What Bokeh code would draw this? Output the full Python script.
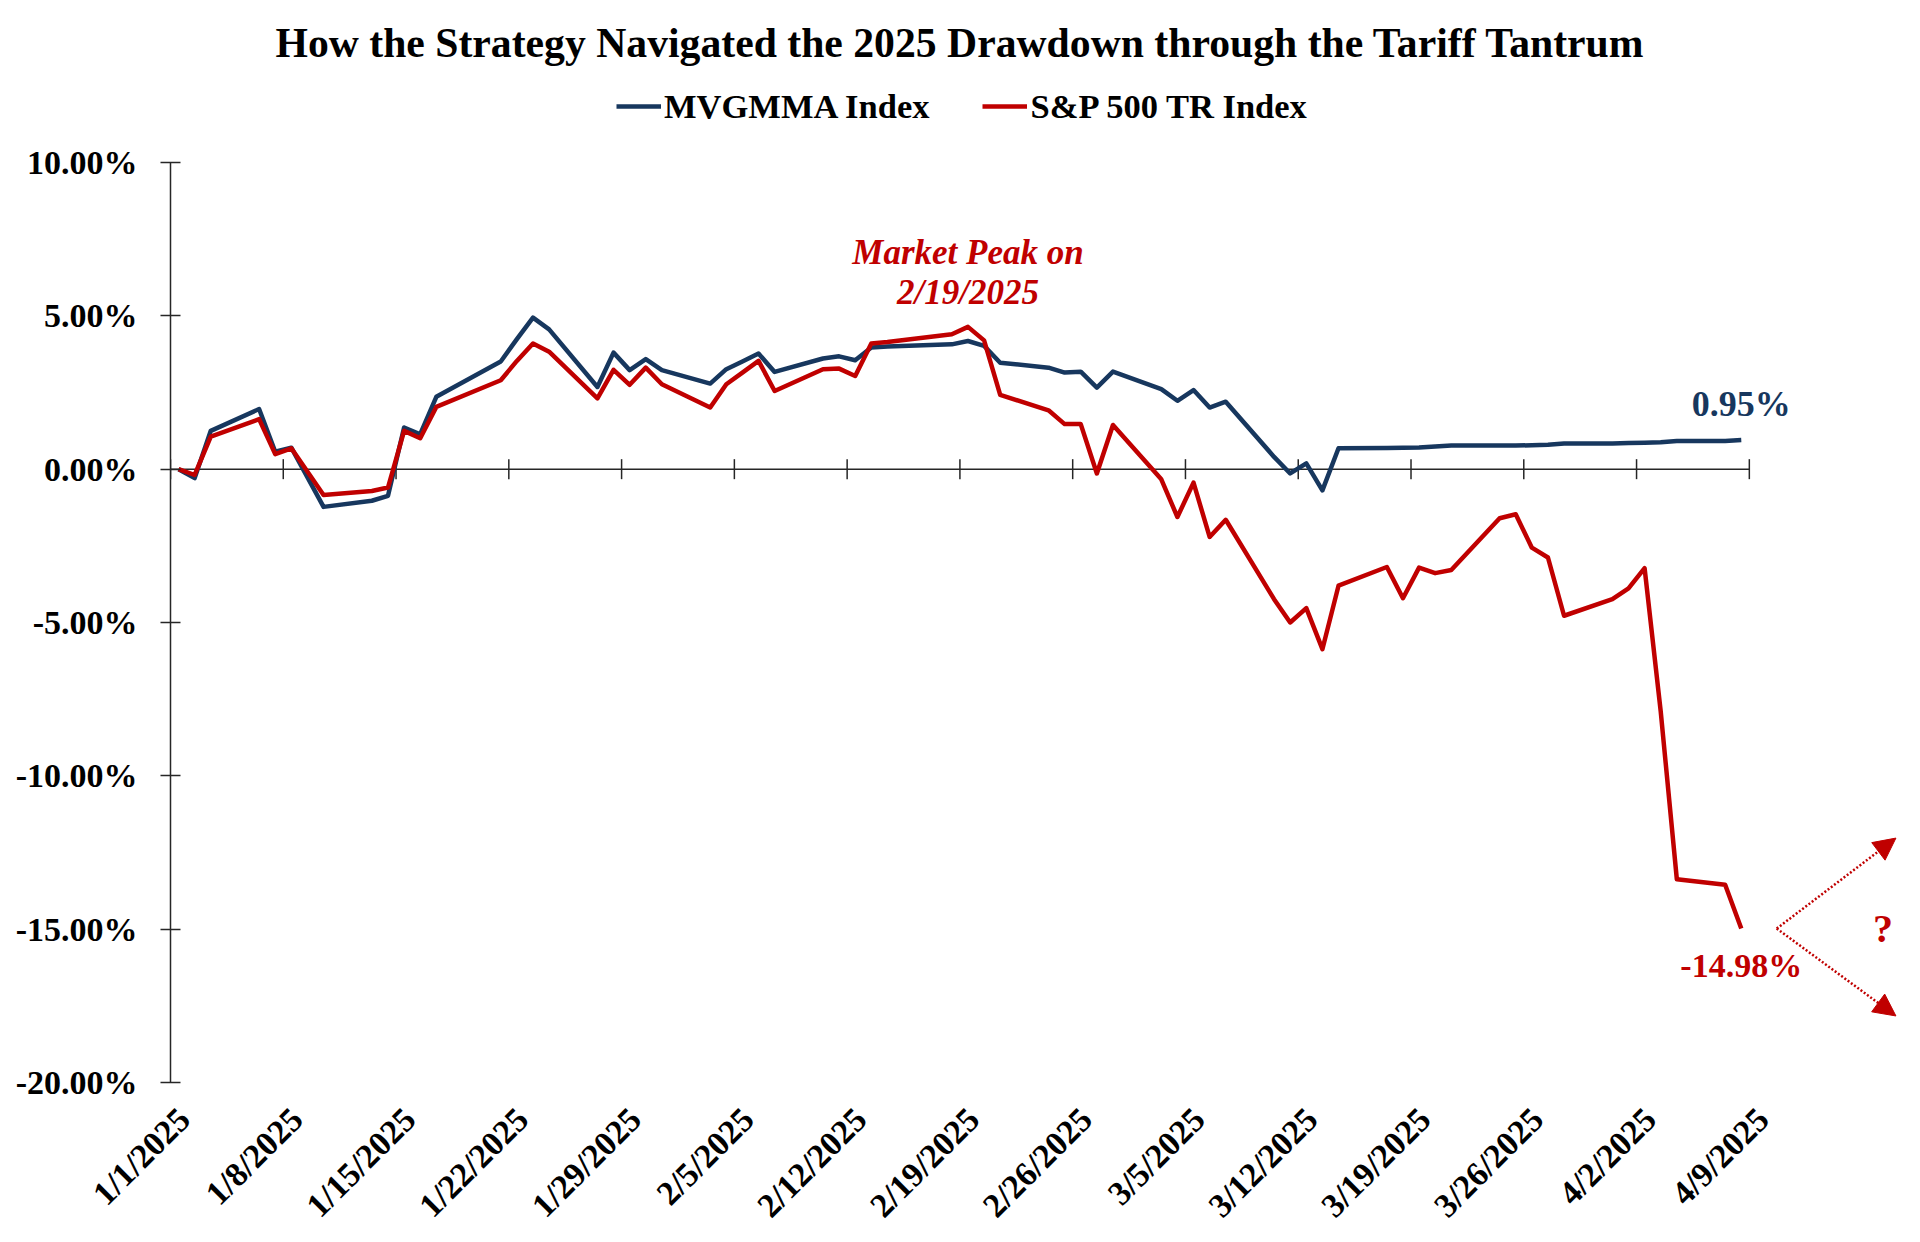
import numpy as np
import pandas as pd
from bokeh.plotting import figure
from bokeh.models import (Range1d, FixedTicker, Legend, LegendItem, Arrow, NormalHead)
from bokeh.core.properties import value
from bokeh.embed import file_html
from bokeh.resources import INLINE

# ---------------- data ----------------
dates = [
    "2025-01-01", "2025-01-02", "2025-01-03", "2025-01-06", "2025-01-07", "2025-01-08",
    "2025-01-10", "2025-01-13", "2025-01-14", "2025-01-15", "2025-01-16", "2025-01-17",
    "2025-01-21", "2025-01-22", "2025-01-23", "2025-01-24", "2025-01-27", "2025-01-28",
    "2025-01-29", "2025-01-30", "2025-01-31", "2025-02-03", "2025-02-04", "2025-02-05",
    "2025-02-06", "2025-02-07", "2025-02-10", "2025-02-11", "2025-02-12", "2025-02-13",
    "2025-02-14", "2025-02-18", "2025-02-19", "2025-02-20", "2025-02-21", "2025-02-24",
    "2025-02-25", "2025-02-26", "2025-02-27", "2025-02-28", "2025-03-03", "2025-03-04",
    "2025-03-05", "2025-03-06", "2025-03-07", "2025-03-10", "2025-03-11", "2025-03-12",
    "2025-03-13", "2025-03-14", "2025-03-17", "2025-03-18", "2025-03-19", "2025-03-20",
    "2025-03-21", "2025-03-24", "2025-03-25", "2025-03-26", "2025-03-27", "2025-03-28",
    "2025-03-31", "2025-04-01", "2025-04-02", "2025-04-03", "2025-04-04", "2025-04-07",
    "2025-04-08",
]

mvgmma = [
    0.00, -0.29, 1.25, 1.96, 0.57, 0.70,
    -1.23, -1.03, -0.87, 1.36, 1.14, 2.36,
    3.51, 4.24, 4.94, 4.56, 2.68, 3.80,
    3.23, 3.59, 3.23, 2.79, 3.26, 3.51,
    3.77, 3.17, 3.61, 3.68, 3.55, 3.97,
    4.00, 4.07, 4.18, 4.02, 3.47, 3.31,
    3.15, 3.18, 2.66, 3.18, 2.61, 2.23,
    2.58, 2.01, 2.20, 0.40, -0.14, 0.19,
    -0.69, 0.68, 0.69, 0.70, 0.71, 0.74,
    0.77, 0.77, 0.77, 0.78, 0.80, 0.84,
    0.84, 0.85, 0.86, 0.88, 0.92, 0.92,
    0.95,
]

sp500 = [
    0.00, -0.19, 1.06, 1.63, 0.49, 0.68,
    -0.84, -0.71, -0.60, 1.25, 1.01, 2.03,
    2.90, 3.53, 4.10, 3.83, 2.31, 3.24,
    2.75, 3.31, 2.77, 2.01, 2.77, 3.15,
    3.53, 2.55, 3.26, 3.28, 3.04, 4.10,
    4.15, 4.40, 4.64, 4.20, 2.42, 1.92,
    1.47, 1.47, -0.14, 1.44, -0.33, -1.56,
    -0.44, -2.21, -1.65, -4.24, -5.00, -4.53,
    -5.87, -3.80, -3.19, -4.21, -3.21, -3.39,
    -3.29, -1.60, -1.47, -2.56, -2.88, -4.78,
    -4.24, -3.89, -3.23, -7.90, -13.37, -13.55,
    -14.98,
]

x_tick_dates = [
    "2025-01-01", "2025-01-08", "2025-01-15", "2025-01-22", "2025-01-29",
    "2025-02-05", "2025-02-12", "2025-02-19", "2025-02-26", "2025-03-05",
    "2025-03-12", "2025-03-19", "2025-03-26", "2025-04-02", "2025-04-09",
]
x_tick_labels = [
    "1/1/2025", "1/8/2025", "1/15/2025", "1/22/2025", "1/29/2025",
    "2/5/2025", "2/12/2025", "2/19/2025", "2/26/2025", "3/5/2025",
    "3/12/2025", "3/19/2025", "3/26/2025", "4/2/2025", "4/9/2025",
]
y_ticks = [-20, -15, -10, -5, 0, 5, 10]
y_tick_labels = ["-20.00%", "-15.00%", "-10.00%", "-5.00%", "0.00%", "5.00%", "10.00%"]

series_names = ["MVGMMA Index", "S&P 500 TR Index"]
title_text = "How the Strategy Navigated the 2025 Drawdown through the Tariff Tantrum"

# ---------------- style ----------------
FONT = "Liberation Serif"
NAVY = "#17375E"
RED = "#C00000"
AXIS = "#262626"

DAY = pd.Timedelta(days=1)
# Excel date axis: each day's point sits in the middle of its day slot
x = pd.to_datetime(dates) + 0.5 * DAY
tick_x = pd.to_datetime(x_tick_dates)


def ms(ts):
    return pd.Timestamp(ts).value / 1e6


x_start = tick_x[0]
x_end = x_start + 107.88 * DAY

# frame reaches above the 10% line so the legend can sit inside it;
# the y axis line itself is bounded to -20%..10%
PX_PER_PCT = 920 / 30.0
FRAME_TOP, FRAME_BOTTOM = 70, 1082
y_top = -20 + (FRAME_BOTTOM - FRAME_TOP) / PX_PER_PCT

p = figure(width=1920, height=1242, x_axis_type="datetime",
           x_range=Range1d(x_start, x_end), y_range=Range1d(-20, y_top),
           output_backend="svg", toolbar_location=None,
           min_border_left=170, min_border_right=12, min_border_top=FRAME_TOP,
           min_border_bottom=1242 - FRAME_BOTTOM)
p.outline_line_color = None
p.xgrid.visible = False
p.ygrid.visible = False
p.background_fill_color = "white"
p.border_fill_color = "white"

# y axis
yax = p.yaxis[0]
yax.ticker = FixedTicker(ticks=y_ticks)
yax.bounds = (y_ticks[0], y_ticks[-1])
yax.major_label_overrides = dict(zip(y_ticks, y_tick_labels))
yax.axis_line_color = AXIS
yax.axis_line_width = 1.5
yax.major_tick_line_color = AXIS
yax.major_tick_line_width = 1.5
yax.major_tick_in = 10
yax.major_tick_out = 10
yax.minor_tick_line_color = None
yax.major_label_standoff = 23
yax.major_label_text_font = FONT
yax.major_label_text_font_size = "34px"
yax.major_label_text_font_style = "bold"
yax.major_label_text_color = "black"

# x axis (labels only; the axis line is drawn at 0%)
label_shift = 0.84 * DAY
label_ticks = [ms(t + label_shift) for t in tick_x]
xax = p.xaxis[0]
xax.ticker = FixedTicker(ticks=label_ticks)
xax.major_label_overrides = dict(zip(label_ticks, x_tick_labels))
xax.axis_line_color = None
xax.major_tick_line_color = None
xax.minor_tick_line_color = None
xax.major_label_orientation = np.pi / 4
xax.major_label_standoff = 25
xax.major_label_text_font = FONT
xax.major_label_text_font_size = "34px"
xax.major_label_text_font_style = "bold"
xax.major_label_text_color = "black"

# horizontal axis line at 0% with crossing tick marks
p.segment(x0=[tick_x[0]], y0=[0], x1=[tick_x[-1]], y1=[0],
          line_color=AXIS, line_width=1.5)
p.scatter(x=tick_x, y=[0] * len(tick_x), marker="dash", angle=np.pi / 2,
          size=20, line_color=AXIS, line_width=1.5)

# series
r_blue = p.line(x, mvgmma, line_color=NAVY, line_width=4.5, line_join="round")
r_red = p.line(x, sp500, line_color=RED, line_width=4.5, line_join="round")

legend = Legend(items=[LegendItem(label=series_names[0], renderers=[r_blue]),
                       LegendItem(label=series_names[1], renderers=[r_red])],
                orientation="horizontal", location=(446, 956 - (1082 - FRAME_BOTTOM)),
                margin=0, padding=0, spacing=53,
                glyph_width=45, glyph_height=40, label_height=40, label_standoff=3,
                label_text_font=FONT, label_text_font_size="34.5px",
                label_text_font_style="bold", label_text_color="black",
                border_line_color=None, background_fill_alpha=0)
p.add_layout(legend, "center")

p.title.text = title_text
p.title.text_font = FONT
p.title.text_font_size = "41.7px"
p.title.text_font_style = "bold"
p.title.text_color = "black"
p.title.align = "left"
p.title.offset = 105
p.title.standoff = 10

# annotations
i_peak = int(np.argmax(sp500))
p.text(x=[x[i_peak]], y=[sp500[i_peak]], text=["Market Peak on"],
       y_offset=-74, text_align="center", text_baseline="middle",
       text_font=value(FONT), text_font_size="35px", text_font_style="bold italic",
       text_color=RED)
p.text(x=[x[i_peak]], y=[sp500[i_peak]], text=[x_tick_labels[7]],
       y_offset=-34, text_align="center", text_baseline="middle",
       text_font=value(FONT), text_font_size="35px", text_font_style="bold italic",
       text_color=RED)

p.text(x=[x[-1]], y=[mvgmma[-1]], text=[f"{mvgmma[-1]:.2f}%"],
       x_offset=0, y_offset=-36, text_align="center", text_baseline="middle",
       text_font=value(FONT), text_font_size="36px", text_font_style="bold",
       text_color=NAVY)
p.text(x=[x[-1]], y=[sp500[-1]], text=[f"{sp500[-1]:.2f}%"],
       y_offset=37, text_align="center", text_baseline="middle",
       text_font=value(FONT), text_font_size="34px", text_font_style="bold",
       text_color=RED)
p.text(x=[x[-1] + 8.8 * DAY], y=[sp500[-1]], text=["?"],
       text_align="center", text_baseline="middle",
       text_font=value(FONT), text_font_size="40px", text_font_style="bold",
       text_color=RED)

tail_x = ms(x[-1] + 2.2 * DAY)
tip_x = ms(x[-1] + 9.6 * DAY)
for dy in (2.95, -2.85):
    p.add_layout(Arrow(end=NormalHead(size=22, fill_color=RED, line_color=RED, line_width=1),
                       x_start=tail_x, y_start=sp500[-1],
                       x_end=tip_x, y_end=sp500[-1] + dy,
                       line_color=RED, line_width=2.5, line_dash="2 2"))

open("out.html", "w").write(file_html(p, INLINE))
